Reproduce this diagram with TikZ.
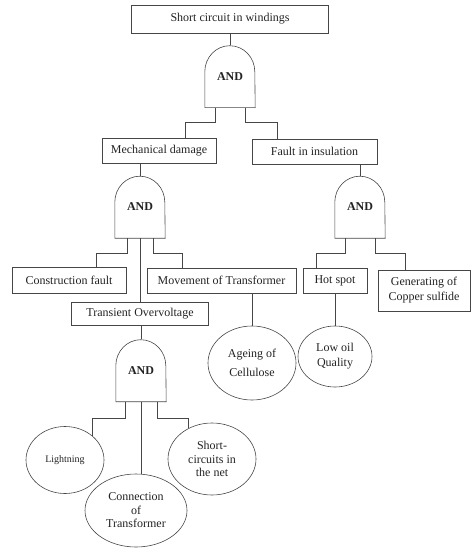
\documentclass[tikz,border=0pt]{standalone}
\usepackage{fontspec}
\setmainfont{Liberation Serif}
\usepackage{tikz}
\usetikzlibrary{positioning}
\usetikzlibrary{calc}
\usetikzlibrary{shapes.geometric}
\usepackage{xcolor}
\definecolor{myline}{RGB}{70,70,70}
\definecolor{mytext}{RGB}{35,35,35}

\tikzset{
  evbox/.style={draw=myline, line width=0.6pt, rectangle, inner sep=0pt, text=mytext,
    font=\fontsize{12}{15}\selectfont, align=center},
  basic/.style={draw=myline, line width=0.6pt, ellipse, inner sep=0pt, text=mytext,
    font=\fontsize{12}{13.5}\selectfont, align=center},
  gate/.style={inner sep=0pt, minimum width=50pt, minimum height=62pt, text=mytext,
    font=\fontsize{12}{14}\selectfont\bfseries},
  wire/.style={draw=myline, line width=0.6pt}
}

% AND gate outline round a gate node
\newcommand{\andgate}[1]{%
  \draw[wire] (#1.south west) -- ([yshift=36pt]#1.south west)
    arc[start angle=180, end angle=0, x radius=25pt, y radius=26pt]
    -- (#1.south east) -- cycle;}

\begin{document}
\begin{tikzpicture}[x=1pt, y=-1pt]
\useasboundingbox (0,0) rectangle (472,548);

%T: top event
\node[evbox, minimum width=197pt, minimum height=28pt] (sw) at (230,19) {Short circuit in windings};
\node[gate] (g1) at (230,76.5) {AND};
\andgate{g1}

%L: mechanical side
\node[evbox, minimum width=114pt, minimum height=25pt] (md) at (159,150.5) {Mechanical damage};
\node[gate] (g2) at (140,207) {AND};
\andgate{g2}

\node[evbox, minimum width=114pt, minimum height=26pt] (cf) at (69,280) {Construction fault};
\node[evbox, minimum width=149pt, minimum height=25pt] (mt) at (221.5,280.5) {Movement of Transformer};
\node[evbox, minimum width=137pt, minimum height=23pt] (tov) at (140,313.5) {Transient Overvoltage};

\node[basic, minimum width=88pt, minimum height=74pt] (ac) at (252,363) {Ageing of\\[6pt]Cellulose};

% overvoltage gate
\node[gate] (g3) at (141,370.5) {AND};
\andgate{g3}

\node[basic, minimum width=78pt, minimum height=67pt, font=\fontsize{10}{12}\selectfont] (li) at (65,460) {Lightning};
\node[basic, minimum width=102pt, minimum height=73pt] (co) at (136,510.5) {Connection\\of\\Transformer};
\node[basic, minimum width=88pt, minimum height=72pt] (sc) at (212,459) {Short-\\circuits in\\the net};

%R: insulation side
\node[evbox, minimum width=125pt, minimum height=25pt] (fi) at (314.5,151.5) {Fault in insulation};
\node[gate] (g4) at (360,207) {AND};
\andgate{g4}

\node[evbox, minimum width=64pt, minimum height=25pt] (hs) at (335,280.5) {Hot spot};
\node[evbox, minimum width=92pt, minimum height=41pt] (gc) at (424,290.5) {Generating of\\Copper sulfide};
\node[basic, minimum width=74pt, minimum height=61pt, font=\fontsize{12}{15}\selectfont] (lq) at (335,356.5) {Low oil\\Quality};

% connections
\draw[wire] (sw.south) -- (g1.north);
\draw[wire] ([xshift=-15pt]g1.south) -- ++(0,15) -| ([xshift=26pt]md.north);
\draw[wire] ([xshift=15pt]g1.south) -- ++(0,15) -| ([xshift=-37.5pt]fi.north);

\draw[wire] (g2.north) -- (g2.north |- md.south);
\draw[wire] ([xshift=-13pt]g2.south) -- ++(0,15) -| ([xshift=27pt]cf.north);
\draw[wire] (g2.south) -- (tov.north);
\draw[wire] ([xshift=13pt]g2.south) -- ++(0,15) -| ([xshift=-39.5pt]mt.north);
\draw[wire] (ac.north) -- (ac.north |- mt.south);

\draw[wire] (tov.south -| g3.north) -- (g3.north);
\draw[wire] ([xshift=-16pt]g3.south) -- ++(0,17) -| (li.42);
\draw[wire] (g3.south) -- (g3.south |- co.82);
\draw[wire] ([xshift=16pt]g3.south) -- ++(0,17) -| (sc.127);

\draw[wire] (g4.north) -- (g4.north |- fi.south);
\draw[wire] ([xshift=-15pt]g4.south) -- ++(0,15) -| ([xshift=-19pt]hs.north);
\draw[wire] ([xshift=15pt]g4.south) -- ++(0,15) -| ([xshift=-19pt]gc.north);
\draw[wire] (hs.south) -- (lq.north);

\end{tikzpicture}
\end{document}
